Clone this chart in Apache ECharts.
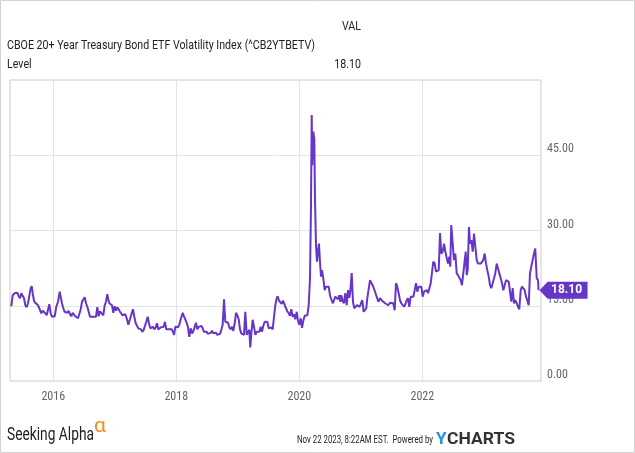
<!DOCTYPE html>
<html><head><meta charset="utf-8">
<script src="https://cdn.jsdelivr.net/npm/echarts@6/dist/echarts.min.js"></script>
<style>html,body{margin:0;padding:0;background:#fff;overflow:hidden}#c{width:635px;height:453px}</style>
</head><body><div id="c"></div><script>
// ---- data (dates as decimal years, weekly-ish readings) ----
const dates = [2015.317,2015.340,2015.372,2015.398,2015.415,2015.437,2015.459,2015.480,2015.502,2015.524,2015.545,2015.567,2015.589,2015.610,2015.633,2015.649,2015.665,2015.686,2015.707,2015.730,2015.751,2015.779,2015.805,2015.828,2015.849,2015.870,2015.893,2015.914,2015.935,2015.958,2015.979,2016.000,2016.023,2016.049,2016.076,2016.104,2016.120,2016.141,2016.163,2016.185,2016.207,2016.228,2016.250,2016.272,2016.293,2016.315,2016.337,2016.358,2016.380,2016.402,2016.423,2016.446,2016.467,2016.488,2016.511,2016.532,2016.553,2016.576,2016.597,2016.618,2016.646,2016.673,2016.694,2016.715,2016.738,2016.759,
2016.787,2016.813,2016.836,2016.857,2016.878,2016.894,2016.911,2016.933,2016.954,2016.976,2016.998,2017.020,2017.041,2017.063,2017.085,2017.106,2017.128,2017.150,2017.171,2017.193,2017.220,2017.247,2017.275,2017.296,2017.317,2017.340,2017.361,2017.382,2017.405,2017.426,2017.447,2017.470,2017.491,2017.512,2017.535,2017.556,2017.577,2017.600,2017.621,2017.642,2017.665,2017.686,2017.707,2017.730,2017.751,2017.772,2017.795,2017.816,2017.837,2017.860,2017.881,2017.902,2017.925,2017.946,2017.963,2017.984,2018.007,2018.028,2018.049,2018.072,2018.104,2018.125,2018.146,2018.169,2018.190,2018.211,2018.234,2018.255,2018.276,
2018.299,2018.320,2018.341,2018.364,2018.385,2018.406,2018.429,2018.450,2018.472,2018.494,2018.515,2018.537,2018.559,2018.580,2018.602,2018.624,2018.645,2018.667,2018.689,2018.711,2018.732,2018.754,2018.776,2018.797,2018.820,2018.841,2018.862,2018.885,2018.906,2018.927,2018.950,2018.971,2018.992,2019.015,2019.036,2019.057,2019.080,2019.101,2019.122,2019.145,2019.166,2019.187,2019.203,2019.220,2019.242,2019.264,2019.285,2019.307,2019.328,2019.350,2019.372,2019.393,2019.415,2019.437,2019.459,2019.480,2019.502,2019.524,2019.545,2019.567,2019.589,2019.610,2019.632,2019.649,2019.670,2019.691,2019.714,2019.735,2019.763,
2019.784,2019.805,2019.828,2019.849,2019.870,2019.893,2019.914,2019.935,2019.958,2019.979,2020.000,2020.023,2020.044,2020.065,2020.088,2020.109,2020.130,2020.153,2020.174,2020.190,2020.202,2020.211,2020.228,2020.244,2020.255,2020.271,2020.288,2020.304,2020.320,2020.336,2020.353,2020.369,2020.390,2020.413,2020.434,2020.455,2020.478,2020.499,2020.520,2020.543,2020.564,2020.585,2020.608,2020.629,2020.650,2020.667,2020.683,2020.706,2020.727,2020.748,2020.771,2020.792,2020.813,2020.829,2020.852,2020.873,2020.894,2020.917,2020.938,2020.959,2020.982,2021.003,2021.024,2021.047,2021.068,2021.089,2021.106,2021.128,
2021.150,2021.177,2021.203,2021.231,2021.259,2021.285,2021.312,2021.340,2021.366,2021.394,2021.421,2021.447,2021.475,2021.502,2021.528,2021.551,2021.572,2021.593,2021.616,2021.637,2021.658,2021.681,2021.702,2021.724,2021.746,2021.767,2021.789,2021.811,2021.833,2021.854,2021.876,2021.898,2021.919,2021.941,2021.963,2021.984,2022.006,2022.028,2022.049,2022.072,2022.093,2022.114,2022.137,2022.158,2022.179,2022.202,2022.223,2022.244,2022.267,2022.288,2022.309,2022.332,2022.353,2022.374,2022.397,2022.418,2022.439,2022.455,2022.471,2022.494,2022.515,2022.537,2022.559,2022.580,2022.602,2022.624,2022.645,2022.667,2022.689,2022.706,2022.722,2022.738,2022.759,2022.776,2022.797,2022.820,2022.841,2022.862,2022.885,2022.906,2022.927,2022.950,2022.971,2022.992,2023.015,2023.036,2023.057,2023.080,2023.101,2023.122,2023.145,2023.166,2023.187,2023.210,2023.231,2023.252,2023.275,2023.296,2023.317,2023.340,2023.361,2023.382,2023.405,2023.426,2023.447,2023.470,2023.491,2023.512,2023.535,2023.556,2023.577,2023.600,2023.621,2023.642,2023.665,2023.686,2023.707,2023.730,2023.751,2023.772,2023.795,2023.816,2023.837,2023.860,2023.881,2023.890];
const levels = [14.9,17.1,17.5,17.3,17.6,16.9,16.5,17.5,17.6,16.5,15.1,14.7,15.5,15.8,18.5,18.9,17.5,16.0,15.6,15.8,15.1,14.3,13.5,14.0,13.8,13.5,13.1,12.9,15.3,13.5,12.8,13.1,12.9,14.8,15.8,17.8,16.8,15.5,14.5,13.8,14.1,13.6,14.0,13.3,12.9,13.6,13.3,12.9,12.8,12.5,12.3,14.3,15.8,16.1,16.7,15.5,14.8,13.8,12.8,12.5,12.8,12.5,12.8,14.7,12.9,13.9,
14.0,13.1,15.1,15.8,17.3,16.3,15.5,15.6,15.1,13.6,14.9,14.0,14.7,14.3,13.8,13.5,13.1,12.8,13.3,12.5,11.2,12.3,13.5,14.3,12.8,11.5,11.2,10.5,10.7,10.3,9.8,10.2,11.0,11.8,12.8,11.5,10.5,10.2,10.8,10.3,10.7,11.5,10.3,10.0,10.7,10.5,10.8,11.8,10.3,10.0,10.3,10.0,10.3,9.8,9.2,10.8,11.0,10.7,11.2,12.3,13.6,12.9,12.3,11.6,10.7,8.8,10.5,9.5,9.9,
10.2,11.6,10.3,10.8,10.5,11.0,10.5,9.8,9.5,9.8,9.4,9.2,9.6,10.0,9.5,9.2,9.6,9.2,9.5,9.4,10.2,11.2,16.3,11.8,11.5,11.6,10.7,10.3,10.8,10.0,11.5,13.6,13.1,12.3,10.3,9.5,9.8,9.2,13.8,9.2,9.5,10.2,6.7,9.5,12.2,10.8,9.2,9.8,9.5,9.8,10.8,9.8,11.0,11.8,11.5,11.8,10.5,10.2,10.7,10.3,12.8,15.1,16.5,16.9,16.0,16.1,15.4,16.0,15.8,
14.5,13.9,13.5,13.0,14.3,12.8,13.3,12.3,13.8,12.0,11.2,12.5,10.6,12.0,13.0,13.1,13.1,15.1,20.5,35.0,53.0,43.0,49.7,48.3,36.4,27.1,23.8,25.8,27.4,23.8,20.8,22.1,20.5,18.1,18.8,19.1,18.8,17.1,16.3,15.5,16.1,16.8,17.1,16.3,17.1,15.8,17.1,15.9,15.5,17.5,15.1,18.1,16.6,17.8,21.5,15.8,14.5,14.8,15.1,15.3,14.8,15.5,16.1,13.8,14.1,14.5,16.5,16.8,
20.1,19.8,18.8,17.8,18.1,15.8,16.5,16.1,15.8,15.5,15.3,15.1,15.6,15.8,15.5,14.1,19.5,18.8,17.5,16.1,15.5,15.3,14.8,15.3,16.1,16.5,14.8,16.8,16.5,16.8,18.1,19.5,17.8,18.8,18.5,18.8,16.8,17.8,17.5,18.1,17.5,17.8,19.5,19.8,23.8,23.4,21.8,21.8,22.1,29.5,25.4,25.8,27.4,25.8,25.8,23.4,24.8,22.8,31.1,27.4,24.1,25.4,21.5,21.1,20.8,20.1,19.1,21.5,21.8,25.8,21.1,22.1,30.7,27.4,28.1,25.8,29.4,26.8,24.1,23.4,23.1,23.4,23.1,24.1,25.4,23.4,22.1,20.8,19.1,18.5,18.8,20.5,21.5,23.4,23.1,21.5,20.5,19.5,18.1,19.1,20.1,19.8,19.8,19.8,15.8,18.5,15.5,16.1,15.5,14.8,14.3,18.1,18.8,19.1,18.1,16.8,16.1,15.1,21.5,22.8,23.1,25.4,26.4,20.5,20.1,18.1];
const yearTicks = [2016, 2018, 2020, 2022];
const seriesTitle = 'CBOE 20+ Year Treasury Bond ETF Volatility Index (^CB2YTBETV)';
const metricName = 'Level';
const colHeader = 'VAL';
const stampText = 'Nov 22 2023, 8:22AM EST.  Powered by';

const LINE = '#6536c8';
const AXISFONT = '"Roboto Condensed","Noto Sans Condensed","Noto Sans SemiCondensed","DejaVu Sans Condensed",Roboto,sans-serif';
const last = levels[levels.length - 1];
const lastDate = dates[dates.length - 1];

// horizontal squeeze so Roboto imitates the condensed face of the original
const mctx = document.createElement('canvas').getContext('2d');
function fitScale(text, font, targetWidth) {
  mctx.font = font;
  return targetWidth / mctx.measureText(text).width;
}
function squeezed(text, font, x, y, align, targetWidth, fill) {
  const s = fitScale(text, font, targetWidth);
  return {type: 'text', x: x, y: y, scaleX: s, silent: true,
    style: {text: text, font: font, textAlign: align, textVerticalAlign: 'middle', fill: fill}};
}

const chart = echarts.init(document.getElementById('c'), null, {renderer: 'canvas'});
chart.setOption({
  animation: false,
  grid: {left: 10, right: 94, top: 80, bottom: 72, show: true, borderColor: '#cccccc', borderWidth: 1},
  xAxis: {
    type: 'value', min: 2015.296, max: 2023.93,
    axisLine: {show: false},
    axisTick: {show: false, customValues: yearTicks},
    axisLabel: {customValues: yearTicks, formatter: v => String(Math.round(v)), color: '#666', fontFamily: AXISFONT, fontSize: 12, margin: 10},
    splitLine: {show: true, lineStyle: {color: '#e4e4e4', width: 1}}
  },
  yAxis: {
    type: 'value', position: 'right', min: 0, max: 60, interval: 15,
    axisLine: {show: false}, axisTick: {show: false},
    axisLabel: {formatter: v => v.toFixed(2), color: '#666', fontFamily: AXISFONT, fontSize: 12, margin: 6, verticalAlign: 'bottom', showMaxLabel: false},
    splitLine: {lineStyle: {color: '#e4e4e4', width: 1}}
  },
  series: [{
    type: 'line', data: dates.map((d, i) => [d, levels[i]]),
    showSymbol: false, symbol: 'none', z: 3,
    lineStyle: {color: LINE, width: 2}, itemStyle: {color: LINE},
    markPoint: {
      silent: true,
      symbol: 'path://M0 8.5L8 0L48 0L48 17L8 17Z', symbolSize: [48, 17], symbolOffset: [25, 0],
      itemStyle: {color: LINE},
      label: {show: true, position: 'inside', offset: [3, 0], formatter: () => last.toFixed(2), color: '#fff', fontWeight: 'bold', fontSize: 12, fontFamily: 'Roboto'},
      data: [{coord: [lastDate, last]}]
    }
  }],
  graphic: [
    {type: 'rect', shape: {x: 0.5, y: 0.5, width: 634, height: 452}, style: {fill: 'none', stroke: '#d2d2d2', lineWidth: 1}, silent: true},
    squeezed(colHeader, '13px Roboto', 361, 27, 'right', 19, '#222'),
    squeezed(seriesTitle, '13px Roboto', 7, 45.5, 'left', 308, '#222'),
    squeezed(metricName, '13px Roboto', 7, 64.5, 'left', 24.6, '#222'),
    squeezed(last.toFixed(2), '13px Roboto', 361, 64.5, 'right', 26.7, '#222'),
    squeezed('Seeking Alpha', '19px Roboto', 7, 435, 'left', 87, '#222'),
    {type: 'text', x: 94, y: 427, silent: true, style: {text: 'α', textAlign: 'left', textVerticalAlign: 'middle', font: '21px Roboto', fill: '#f68b1f'}},
    squeezed(stampText, '11px Roboto', 433, 440, 'right', 136, '#222'),
    {type: 'text', x: 436, y: 440, silent: true, style: {text: 'Y', textAlign: 'left', textVerticalAlign: 'middle', font: 'bold 17px Roboto', fill: '#2a8fe0'}},
    squeezed('CHARTS', 'bold 17px Roboto', 447, 440, 'left', 68, '#333')
  ]
});
</script></body></html>
